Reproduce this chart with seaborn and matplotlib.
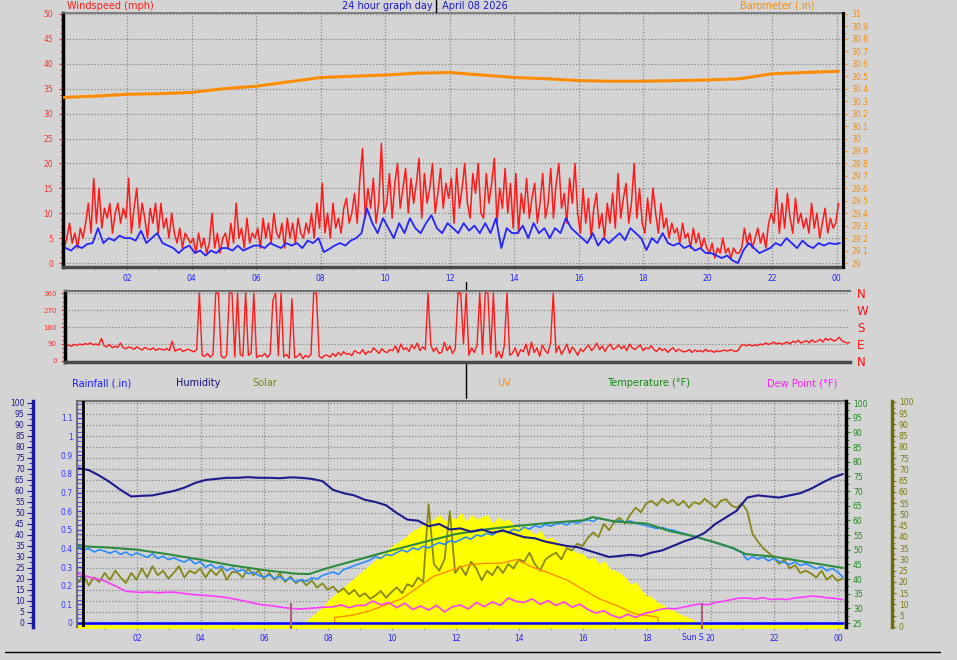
import numpy as np
import pandas as pd
import matplotlib
matplotlib.use('Agg')
import matplotlib.pyplot as plt
import seaborn as sns
from matplotlib.ticker import MultipleLocator, AutoMinorLocator, FuncFormatter, FixedLocator
from matplotlib.lines import Line2D

sns.set_style('white')
plt.rcParams['font.family'] = ['DejaVu Sans']

BG = '#d4d4d4'
GRID = '#8a8a8a'

# ---------------- data ----------------
# wind gust, 5 minute samples from 00:03
gust_start, gust_step = 0.05, 5 / 60
gust_mph = [
    3, 5, 8, 4, 6, 3, 7, 5, 8, 12, 6, 17,
    8, 15, 7, 11, 9, 12, 6, 10, 12, 8, 11, 9,
    17, 6, 11, 15, 7, 12, 9, 5, 11, 8, 12, 6,
    12, 7, 9, 5, 10, 6, 4, 7, 3, 6, 5, 4,
    5, 2, 6, 3, 5, 2, 4, 10, 3, 6, 2, 5,
    6, 3, 8, 4, 12, 5, 7, 3, 9, 4, 6, 5,
    7, 3, 9, 5, 8, 4, 10, 6, 5, 8, 3, 9,
    5, 8, 4, 9, 6, 5, 8, 6, 10, 5, 12, 7,
    16, 6, 10, 5, 12, 7, 9, 6, 11, 13, 8, 10,
    14, 8, 17, 23, 9, 15, 11, 17, 8, 12, 24, 10,
    12, 18, 9, 16, 20, 11, 15, 19, 10, 17, 12, 16,
    21, 9, 18, 12, 15, 20, 10, 14, 19, 11, 16, 13,
    17, 8, 19, 11, 15, 20, 12, 9, 18, 14, 20, 10,
    9, 18, 12, 16, 21, 8, 15, 11, 19, 10, 16, 7,
    18, 6, 14, 10, 17, 9, 13, 16, 8, 12, 18, 9,
    12, 19, 9, 16, 20, 11, 14, 8, 17, 12, 20, 10,
    6, 15, 8, 13, 5, 11, 14, 7, 10, 5, 12, 8,
    14, 7, 18, 9, 13, 16, 8, 12, 20, 9, 15, 8,
    6, 13, 8, 15, 10, 6, 12, 7, 9, 5, 8, 6,
    7, 4, 8, 5, 6, 3, 7, 4, 6, 3, 5, 3,
    2, 4, 1, 3, 2, 5, 2, 3, 1, 3, 2, 2,
    3, 7, 4, 6, 3, 5, 7, 4, 6, 3, 8, 10,
    8, 15, 6, 12, 7, 14, 9, 6, 13, 8, 10, 7,
    9, 6, 12, 7, 10, 5, 8, 11, 6, 9, 7, 8,
    12]

# average wind, 10 minute samples
avg_start, avg_step = 0.1, 10 / 60
avg_mph = [
    3, 2.5, 3.5, 3, 3.8, 4,
    7, 4, 5, 4.5, 5.5, 5,
    5, 4.5, 6.5, 4, 5, 6,
    4, 3.5, 3, 2, 3, 3.5,
    2, 2.5, 1.5, 2.5, 2, 3,
    3, 2.5, 3.5, 2.5, 3, 3.5,
    3.5, 3, 4, 3.5, 3, 4,
    3.5, 4, 3, 4.5, 4, 5,
    2.2, 2.8, 3.5, 4, 3.5, 4.5,
    5, 6, 11, 8, 6, 9,
    7, 5, 8, 6, 9, 7,
    6, 8, 9.6, 7, 6, 8,
    7, 6, 8, 6.5, 7.5, 6,
    8, 6, 9, 3, 7, 6,
    6, 7.5, 5, 8, 6, 7,
    5, 7, 6, 9, 7, 6,
    5, 4, 6, 3.5, 5, 4,
    5, 6, 4.6, 7, 6, 5,
    2.6, 5, 4, 6, 4, 3.5,
    4, 3, 3.5, 2.5, 3, 2,
    2, 1.5, 1, 1.5, 0.5, 0,
    2.5, 4, 3, 2, 2.5, 3,
    4, 3.5, 5, 4, 3, 4.5,
    3.5, 3, 4, 3.5, 4, 3.8,
    4]

baro_hours = [0.05, 1, 2, 3, 4, 5, 6, 7, 8, 9, 10, 11, 12, 13, 14, 15, 16, 17,
              18, 19, 20, 21, 22, 23, 24.05]
baro_in = [30.33, 30.34, 30.355, 30.36, 30.37, 30.40, 30.42, 30.455, 30.49,
           30.50, 30.51, 30.525, 30.53, 30.51, 30.49, 30.48, 30.465, 30.46,
           30.46, 30.465, 30.47, 30.48, 30.52, 30.53, 30.54]

# wind direction (degrees), 5 minute samples
dir_start, dir_step = 0.05, 5 / 60
wind_dir = [
    80, 85, 78, 88, 82, 90, 85, 92, 88, 95, 86, 90,
    84, 120, 80, 75, 88, 70, 78, 72, 95, 70, 65, 74,
    70, 62, 75, 66, 58, 72, 64, 60, 70, 56, 65, 62,
    58, 66, 55, 105, 52, 60, 65, 50, 58, 62, 55, 48,
    60, 360, 30, 25, 40, 20, 35, 360, 360, 28, 15, 30,
    360, 360, 22, 360, 35, 25, 360, 30, 40, 360, 18, 30,
    25, 40, 20, 35, 320, 360, 28, 360, 22, 35, 15, 330,
    18, 25, 40, 12, 30, 20, 35, 360, 360, 25, 15, 30,
    30, 20, 40, 25, 45, 30, 50, 35, 40, 28, 55, 45,
    40, 60, 35, 50, 45, 70, 55, 40, 65, 50, 45, 60,
    55, 80, 45, 90, 60, 70, 50, 85, 65, 95, 55, 75,
    60, 360, 85, 50, 70, 40, 45, 100, 55, 80, 40, 65,
    360, 360, 90, 360, 30, 70, 45, 85, 360, 35, 360, 360,
    40, 360, 20, 50, 15, 80, 360, 30, 40, 70, 25, 60,
    50, 90, 30, 100, 45, 70, 25, 85, 55, 40, 95, 360,
    45, 80, 35, 60, 90, 40, 75, 55, 30, 65, 50, 70,
    85, 55, 70, 95, 60, 80, 50, 75, 90, 60, 70, 85,
    65, 80, 55, 90, 70, 60, 75, 85, 55, 70, 65, 80,
    60, 50, 70, 55, 65, 45, 60, 70, 50, 62, 55, 48,
    52, 60, 45, 58, 50, 55, 48, 62, 50, 56, 46, 55,
    50, 54, 58, 52, 60, 55, 50, 58, 82, 86, 80, 88,
    80, 85, 82, 90, 86, 95, 88, 92, 100, 90, 96, 88,
    95, 100, 90, 105, 98, 110, 95, 102, 108, 96, 112, 100,
    105, 115, 100, 120, 110, 118, 105, 112, 125, 108, 100, 95,
    98]

# humidity (%), 20 minute samples
hum_start, hum_step = 0.15, 20 / 60
humidity = [
    70.4, 69.5, 67, 64, 60.5, 57.5, 57.8, 58, 59, 60, 61.5, 63.6,
    65, 65.5, 66, 66, 66.3, 66, 66, 65.8, 66.2, 66, 65.5, 64.5,
    60.5, 59, 58, 56, 55, 53.5, 50, 47, 46.5, 44, 45, 42.5,
    43, 41.5, 42.5, 41, 42, 40.5, 39, 38.5, 37, 36, 35, 34.5,
    33, 31.5, 30, 30.5, 31, 30.5, 32, 33, 35, 37, 38.6, 41,
    45, 48, 51, 57, 58, 57.5, 57, 58, 59, 61, 63.6, 66,
    67.7]

temp_hours = [0.15, 1, 2, 3, 4, 5, 6, 7, 7.4, 8, 9, 10, 11, 12, 13, 14, 15, 16,
              16.3, 17, 18, 18.7, 19.5, 20.2, 20.7, 21.1, 22, 23, 24.15]
temp_f = [51.2, 50.8, 50.0, 48.4, 46.6, 44.6, 43.0, 41.8, 41.7, 43.8, 46.8,
          49.8, 52.6, 55.3, 57.0, 58.2, 59.2, 60.0, 61.1, 59.6, 58.9, 56.4,
          54.5, 52.3, 50.6, 48.5, 47.6, 45.8, 43.8]

# apparent temperature (light blue), 10 minute samples
feels_start, feels_step = 0.15, 10 / 60
feels_f = [
    50.6, 49.8, 50.4, 49.2, 50.0, 49.5,
    48.8, 49.6, 48.4, 49.2, 48.0, 48.9,
    48.2, 47.4, 48.6, 47.0, 47.8, 46.6,
    47.2, 46.4, 45.8, 46.8, 45.2, 45.9,
    44.0, 45.0, 43.6, 44.4, 42.8, 43.8,
    42.6, 43.2, 41.8, 42.4, 41.2, 40.7,
    41.4, 40.2, 40.8, 39.6, 40.4, 39.0,
    39.8, 39.2, 40.4, 40.0, 41.2, 41.8,
    42.4, 41.6, 43.2, 43.8, 44.6, 45.2,
    45.8, 46.5, 47.6, 47.0, 48.4, 48.0,
    49.0, 49.9, 49.2, 50.6, 50.0, 51.2,
    50.6, 51.6, 52.4, 51.8, 53.0, 52.6,
    53.4, 54.3, 53.6, 55.0, 54.6, 55.6,
    55.0, 56.2, 56.7, 55.8, 57.0, 56.4,
    57.7, 57.0, 58.2, 57.6, 58.6, 58.0,
    58.8, 59.1, 58.4, 59.6, 59.0, 59.8,
    60.2, 59.6, 60.8, 60.4, 60.0, 59.4,
    60.0, 59.4, 59.8, 59.0, 58.6, 58.2,
    57.7, 57.2, 57.6, 56.9, 56.7, 56.0,
    55.6, 55.0, 54.6, 54.0, 53.4, 53.0,
    52.4, 51.8, 51.2, 50.6, 49.8, 49.0,
    46.5, 47.6, 46.8, 47.4, 46.2, 47.0,
    46.0, 45.6, 45.0, 45.8, 44.6, 45.2,
    44.4, 43.5, 44.2, 42.8, 43.6, 42.4,
    40.7]

# dew point, 15 minute samples
dew_start, dew_step = 0.15, 15 / 60
dew_f = [
    41.7, 41.0, 40.2, 39.7, 38.5, 37.2, 35.8, 35.6,
    35.4, 35.6, 35.3, 35.5, 35.5, 35.2, 34.8, 34.6,
    34.4, 34.2, 33.9, 33.5, 33.0, 32.4, 31.8, 31.2,
    31.0, 30.6, 30.2, 29.9, 29.8, 30.0, 30.2, 30.4,
    30.5, 31.2, 30.2, 31.0, 31.0, 32.5, 31.2, 32.0,
    30.2, 31.8, 29.6, 30.8, 29.4, 31.0, 28.8, 30.6,
    31.1, 29.8, 32.0, 30.6, 32.2, 31.0, 33.5, 32.4,
    32.0, 33.2, 31.4, 32.6, 31.0, 32.2, 30.4, 31.4,
    29.6, 28.4, 29.2, 27.6, 26.7, 28.0, 26.9, 28.2,
    28.8, 29.6, 30.0, 29.8, 30.4, 31.0, 31.5, 31.2,
    32.0, 32.4, 33.0, 33.5, 33.5, 33.2, 33.6, 33.0,
    33.2, 33.0, 33.6, 33.8, 34.2, 34.0, 33.6, 33.4,
    33.0]

# "Solar" olive line, 10 minute samples
solar_start, solar_step = 0.15, 10 / 60
solar = [
    19.8, 23, 18.5, 22, 20, 24,
    21, 25, 22, 19.5, 24, 21,
    26, 22, 27, 23, 25, 21.5,
    24, 27, 22, 25, 23.8, 26,
    22, 25.5, 23, 26, 21, 24.5,
    24.2, 22, 26, 23, 25, 21.5,
    24, 21, 23.8, 20, 22.5, 19.5,
    21, 18.5, 20.7, 17.5, 19.4, 16.5,
    18, 15.5, 17.2, 14.5, 16.5, 13.5,
    15, 12.5, 14, 16, 13, 15.5,
    17.6, 15, 19, 18, 22, 20,
    54.6, 28, 25, 30, 51.5, 24,
    27, 23, 29, 26, 20.7, 25,
    23, 27, 24, 28, 26, 30,
    29, 33, 28, 25, 30, 31.7,
    33, 30, 35, 34, 37, 36,
    39.6, 42, 40, 45.8, 43, 47,
    48.5, 46, 50, 53, 51, 55,
    56, 54, 57, 55, 56.5, 54,
    56, 53, 55.5, 54.6, 57, 55,
    53, 56, 56.8, 54, 53, 55,
    51.5, 41.4, 38, 35, 33, 31,
    28, 30, 26, 27.5, 24, 25,
    23.8, 22, 25, 21, 23, 20.5,
    21.6]

# solar radiation (yellow area), 10 minute samples through daylight
rad_start, rad_step = 7.0, 10 / 60
radiation = [
    0, 1, 3, 5, 7, 9,
    12, 14, 16, 18, 20, 22,
    24, 26, 28, 30, 32, 34,
    36, 37.4, 39, 41, 43, 44,
    46, 47, 48, 50, 47, 49,
    48, 51, 47, 50, 48, 49,
    50, 46, 49, 47, 48, 45,
    44, 46, 42.7, 41, 43, 39,
    40, 38, 37, 36, 34, 33,
    32.6, 30, 31, 28, 29.5, 26,
    25, 24, 22, 19, 20, 16.3,
    14, 13.2, 11, 10, 8, 7.5,
    6, 5, 4, 3, 2, 1,
    0]
night_hours = [0.15, 24.15]
night_rad = [0.0, 0.0]

uv_hours = [8.2, 8.2, 8.7, 9.2, 9.7, 10.3, 10.8, 11.3, 11.8, 12.35, 12.9, 13.4,
            13.9, 14.4, 14.9, 15.5, 16.0, 16.5, 17.1, 17.6, 18.0, 18.35, 18.35]
uv_index = [0, 0.3, 0.4, 0.6, 0.9, 1.3, 1.9, 2.5, 2.8, 3.1, 3.2, 3.2, 3.4, 3.0,
            2.7, 2.3, 1.8, 1.3, 0.9, 0.5, 0.4, 0.3, 0]

rain_hours = [0.15, 24.15]
rain_in = [0.0, 0.0]

day_start = 0.3
sunrise, sunset = 6.83, 19.73
compass = ['N', 'E', 'S', 'W', 'N']


def times(start, step, values):
    return np.arange(len(values)) * step + start


def line(ax, x, y, color, lw, **kw):
    sns.lineplot(x=np.asarray(x), y=np.asarray(y), ax=ax, color=color,
                 linewidth=lw, estimator=None, sort=False, legend=False, **kw)


hour_fmt = FuncFormatter(lambda v, p: '%02d' % (int(round(v)) % 24))
num_fmt = FuncFormatter(lambda v, p: ('%.1f' % v).rstrip('0').rstrip('.'))

fig = plt.figure(figsize=(9.57, 6.6), dpi=100, facecolor=BG)


def px_axes(l, t, r, b):
    return fig.add_axes([l / 957, 1 - b / 660, (r - l) / 957, (b - t) / 660])


def dotted_grid(ax, axis):
    ax.grid(True, axis=axis, color=GRID, linestyle=(0, (1, 1.5)), linewidth=0.9)


# ---------------- top: wind speed + barometer ----------------
ax1 = px_axes(63, 13, 843, 267)
ax1.set_facecolor(BG)
ax1.set_xlim(0.015, 24.19)
ax1.set_ylim(-0.8, 50.2)
ax1.yaxis.set_major_locator(MultipleLocator(5))
ax1.yaxis.set_minor_locator(AutoMinorLocator(4))
ax1.xaxis.set_major_locator(MultipleLocator(2))
ax1.xaxis.set_minor_locator(MultipleLocator(1))
ax1.xaxis.set_major_formatter(hour_fmt)
dotted_grid(ax1, 'both')
ax1.tick_params(axis='y', which='both', colors='#ff3030', labelsize=5.5, length=3, pad=4, left=True)
ax1.tick_params(axis='y', which='minor', length=2)
ax1.tick_params(axis='x', which='both', colors='#909090', labelcolor='#2020ff', labelsize=5.5,
                length=2, pad=3, bottom=True)
line(ax1, times(gust_start, gust_step, gust_mph), gust_mph, '#ff1a1a', 1.1)
line(ax1, times(avg_start, avg_step, avg_mph), avg_mph, '#2424ff', 1.3)
ax1.spines['left'].set_color('black')
ax1.spines['left'].set_linewidth(2.5)
ax1.spines['bottom'].set_color('#4a4a4a')
ax1.spines['bottom'].set_linewidth(2.5)
ax1.spines['top'].set_color('#707070')
ax1.spines['top'].set_linewidth(1.2)
ax1.spines['right'].set_visible(False)
ax1.set_xlabel('')
ax1.set_ylabel('')

ax1b = ax1.twinx()
ax1b.set_ylim(28.968, 31.008)
ax1b.yaxis.set_major_locator(MultipleLocator(0.1))
ax1b.yaxis.set_minor_locator(AutoMinorLocator(2))
ax1b.yaxis.set_major_formatter(num_fmt)
ax1b.tick_params(axis='y', which='both', colors='#ff8c00', labelsize=5.5, length=3, pad=3, right=True)
ax1b.tick_params(axis='y', which='minor', length=2)
line(ax1b, baro_hours, baro_in, '#ff8c00', 2.2)
for s in ['left', 'top', 'bottom']:
    ax1b.spines[s].set_visible(False)
ax1b.spines['right'].set_color('black')
ax1b.spines['right'].set_linewidth(2.2)
ax1b.set_ylabel('')

# ---------------- middle: wind direction ----------------
ax2 = px_axes(65, 291, 850, 362)
ax2.set_facecolor(BG)
ax2.set_xlim(0.02, 24.05)
ax2.set_ylim(-5.3, 370.6)
ax2.yaxis.set_major_locator(FixedLocator([0, 90, 180, 270, 360]))
ax2.yaxis.set_minor_locator(AutoMinorLocator(4))
ax2.set_xticks([])
dotted_grid(ax2, 'y')
ax2.tick_params(axis='y', which='both', colors='#ff3030', labelsize=5, length=3, pad=3, left=True)
ax2.tick_params(axis='y', which='minor', length=2)
line(ax2, times(dir_start, dir_step, wind_dir), wind_dir, '#ff1a1a', 1.0)
ax2.spines['left'].set_color('black')
ax2.spines['left'].set_linewidth(2.5)
ax2.spines['bottom'].set_color('#4a4a4a')
ax2.spines['bottom'].set_linewidth(2.5)
ax2.spines['top'].set_color('#707070')
ax2.spines['top'].set_linewidth(1.5)
ax2.spines['right'].set_visible(False)
ax2.set_ylabel('')

ax2b = ax2.twinx()
ax2b.set_ylim(ax2.get_ylim())
ax2b.set_yticks([0, 90, 180, 270, 360])
ax2b.set_yticklabels(compass)
ax2b.tick_params(axis='y', colors='#ff1010', labelsize=8.5, length=0, pad=5)
for s in ax2b.spines.values():
    s.set_visible(False)

# ---------------- bottom: rain / humidity / temps / solar ----------------
ax_g = px_axes(77, 401, 846, 627)       # grid + humidity scale
ax_g.set_facecolor(BG)
ax_g.set_xlim(0.116, 24.25)
ax_g.set_ylim(-1.82, 100.9)
ax_s = ax_g.twinx()    # solar
ax_u = ax_g.twinx()    # uv
ax_t = ax_g.twinx()    # temperatures
ax_hl = ax_g.twinx()   # humidity line
ax_r = ax_g.twinx()    # rainfall

ax_g.yaxis.set_major_locator(MultipleLocator(5))
ax_g.yaxis.set_minor_locator(MultipleLocator(2.5))
ax_g.xaxis.set_major_locator(MultipleLocator(2))
ax_g.xaxis.set_minor_locator(MultipleLocator(1))
ax_g.xaxis.set_major_formatter(hour_fmt)
dotted_grid(ax_g, 'both')
ax_g.yaxis.tick_left()
ax_g.tick_params(axis='y', which='both', colors='#1a1a8c', labelsize=5.5, length=4, pad=2, left=True)
ax_g.tick_params(axis='y', which='minor', length=3)
ax_g.tick_params(axis='x', which='both', colors='#909090', labelcolor='#2020ff', labelsize=5.5,
                 length=2, pad=3, bottom=True)
ax_g.spines['left'].set_position(('outward', 44 * 0.72))
ax_g.spines['left'].set_color('#1a1aa0')
ax_g.spines['left'].set_linewidth(2.5)
ax_g.spines['right'].set_visible(False)
for s in ['top', 'bottom']:
    ax_g.spines[s].set_color('#707070')
    ax_g.spines[s].set_linewidth(1.5)
# sunset label, cut short by the "20" hour label as on the station graph
ax_g.text(sunset + 0.05, -0.046, 'Sun S', transform=ax_g.get_xaxis_transform(), ha='right',
          va='center', color='#2020ff', fontsize=5.5, clip_on=False)

# solar
ax_s.set_ylim(0, 100.4)
rad_t = times(rad_start, rad_step, radiation)
ax_s.fill_between(rad_t, 0, radiation, color='#ffff00', linewidth=0)
line(ax_s, night_hours, night_rad, '#ffff00', 2.6, clip_on=False)
line(ax_s, times(solar_start, solar_step, solar), solar, '#878718', 1.3)
ax_s.yaxis.set_major_locator(MultipleLocator(5))
ax_s.yaxis.set_minor_locator(MultipleLocator(2.5))
ax_s.yaxis.set_major_formatter(num_fmt)
ax_s.tick_params(axis='y', which='both', colors='#7a7a10', labelsize=5.5, length=3, pad=2, right=True)
ax_s.tick_params(axis='y', which='minor', length=2)
ax_s.spines['right'].set_position(('outward', 46 * 0.72))
ax_s.spines['right'].set_color('#6e6e10')
ax_s.spines['right'].set_linewidth(2.5)
for s in ['left', 'top', 'bottom']:
    ax_s.spines[s].set_visible(False)

# uv
ax_u.set_ylim(-0.215, 11.91)
line(ax_u, uv_hours, uv_index, '#ff8c00', 1.0)
ax_u.set_yticks([])
for s in ax_u.spines.values():
    s.set_visible(False)

# temperatures
ax_t.set_ylim(23.64, 100.69)
line(ax_t, times(feels_start, feels_step, feels_f), feels_f, '#2a8cff', 1.2)
line(ax_t, temp_hours, temp_f, '#2e8b3e', 1.5)
line(ax_t, times(dew_start, dew_step, dew_f), dew_f, '#ff3cff', 1.2)
ax_t.yaxis.set_major_locator(MultipleLocator(5))
ax_t.yaxis.set_minor_locator(MultipleLocator(2.5))
ax_t.tick_params(axis='y', which='both', colors='#1f8a1f', labelsize=5.5, length=3, pad=2, right=True)
ax_t.tick_params(axis='y', which='minor', length=2)
ax_t.spines['right'].set_color('black')
ax_t.spines['right'].set_linewidth(2.5)
for s in ['left', 'top', 'bottom']:
    ax_t.spines[s].set_visible(False)

# humidity line
ax_hl.set_ylim(ax_g.get_ylim())
line(ax_hl, times(hum_start, hum_step, humidity), humidity, '#1c1c8e', 1.5)
ax_hl.set_yticks([])
for s in ax_hl.spines.values():
    s.set_visible(False)

# rainfall
ax_r.set_ylim(-0.0215, 1.191)
line(ax_r, rain_hours, rain_in, '#0000ff', 1.8)
ax_r.vlines([sunrise, sunset], -0.03, 0.107, color='#b0607c', linewidth=1.5, clip_on=False)
ax_r.axvline(day_start, color='black', linewidth=2)
ax_r.yaxis.tick_left()
ax_r.yaxis.set_major_locator(MultipleLocator(0.1))
ax_r.yaxis.set_minor_locator(MultipleLocator(0.025))
ax_r.yaxis.set_major_formatter(num_fmt)
ax_r.tick_params(axis='y', which='both', colors='#3535ff', labelsize=5.5, direction='in',
                 length=4, pad=3, left=True)
ax_r.tick_params(axis='y', which='minor', length=3)
ax_r.spines['left'].set_color('#707070')
ax_r.spines['left'].set_linewidth(1.5)
for s in ['right', 'top', 'bottom']:
    ax_r.spines[s].set_visible(False)

for a in [ax_s, ax_u, ax_t, ax_hl, ax_r, ax_g]:
    a.set_ylabel('')
    a.set_xlabel('')


# ---------------- headers ----------------
def ftext(x, y, s, color, ha='left', size=7):
    fig.text(x / 957, 1 - y / 660, s, color=color, ha=ha, va='center', fontsize=size)


ftext(67, 6, 'Windspeed (mph)', '#ff1a1a')
ftext(425, 6, '24 hour graph day : April 08 2026', '#1a1acc', ha='center')
ftext(815, 6, 'Barometer (.in)', '#ff8c00', ha='right')
ftext(72, 383, 'Rainfall (.in)', '#1a1aff')
ftext(176, 383, 'Humidity', '#10107a')
ftext(252, 383, 'Solar', '#808010')
ftext(497, 383, 'UV', '#ff8c1a')
ftext(607, 383, 'Temperature (°F)', '#108a10')
ftext(767, 383, 'Dew Point (°F)', '#ff1aff')

# cursor marks and frame line
fig.add_artist(Line2D([466 / 957, 466 / 957], [1 - 282 / 660, 1 - 398 / 660],
                      color='black', linewidth=1, zorder=0))
fig.add_artist(Line2D([436 / 957, 436 / 957], [1, 1 - 12 / 660], color='black', linewidth=1))
fig.add_artist(Line2D([5 / 957, 940 / 957], [1 - 652 / 660, 1 - 652 / 660], color='black', linewidth=1))

fig.savefig('out.png', dpi=100, facecolor=BG)
